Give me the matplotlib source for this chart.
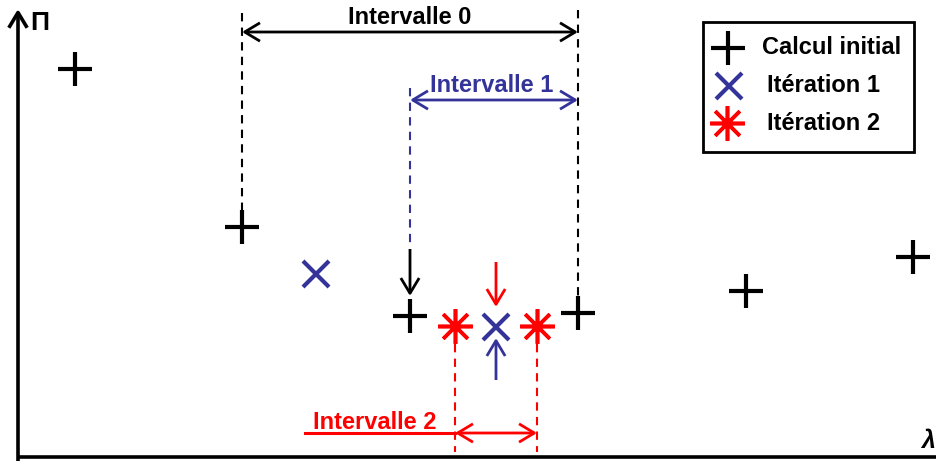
import numpy as np
import matplotlib.pyplot as plt
from matplotlib.patches import Rectangle

plt.rcParams['font.family'] = ['Liberation Sans', 'DejaVu Sans']

blue = '#333399'
red = '#ff0000'

# points in picture units (x = lambda, y = Pi, y grows downwards)
x_init = [75, 242, 410, 578, 746, 913]
y_init = [69, 227, 316, 313, 291, 257]
x_it1 = [316, 496]
y_it1 = [274, 327]
x_it2 = [455, 537]
y_it2 = [326, 326]

labels = ['Calcul initial', 'Itération 1', 'Itération 2']
interval_names = ['Intervalle 0', 'Intervalle 1', 'Intervalle 2']

fig = plt.figure(figsize=(9.36, 4.61), dpi=100)
ax = fig.add_axes([0, 0, 1, 1])
ax.set_xlim(0, 936)
ax.set_ylim(461, 0)
ax.axis('off')

def arrow(x0, y0, x1, y1, color, style='->', lw=2.0):
    ax.annotate('', xy=(x1, y1), xytext=(x0, y0),
                arrowprops=dict(arrowstyle=style + ',head_length=0.5,head_width=0.3',
                                color=color, lw=lw, shrinkA=0, shrinkB=0,
                                mutation_scale=22, capstyle='butt'))

def vdash(x, y0, y1, color):
    ax.plot([x, x], [y0, y1], color=color, lw=1.5, dashes=(4, 3))

# axes
arrow(18, 461, 18, 9, 'k', lw=2.6)
ax.plot([18, 936], [457, 457], color='k', lw=2.6, solid_capstyle='butt')
ax.text(40, 23, 'Π', fontsize=19, fontweight='bold', ha='center', va='center')
ax.text(921, 441, 'λ', fontsize=18, fontweight='bold', fontstyle='italic',
        ha='left', va='center')

# interval 0
vdash(x_init[1], 13, 210, 'k')
vdash(x_init[3], 10, 296, 'k')
arrow(x_init[1], 32, x_init[3], 32, 'k', style='<->')
ax.text(410, 17, interval_names[0], fontsize=17, fontweight='bold',
        ha='center', va='center', color='k')

# interval 1
vdash(x_init[2], 88, 248, blue)
arrow(x_init[2], 100, x_init[3], 100, blue, style='<->')
ax.text(492, 86, interval_names[1], fontsize=17, fontweight='bold',
        ha='center', va='center', color=blue)
arrow(x_init[2], 249, x_init[2], 296, 'k')

# interval 2
vdash(x_it2[0], 344, 452, red)
vdash(x_it2[1], 344, 452, red)
ax.plot([305, x_it2[0]], [433, 433], color=red, lw=2.2)
arrow(x_it2[0], 433, x_it2[1], 433, red, style='<->')
ax.text(375, 422, interval_names[2], fontsize=17, fontweight='bold',
        ha='center', va='center', color=red)
arrow(x_it1[1], 262, x_it1[1], 307, red)
arrow(x_it1[1], 380, x_it1[1], 338, blue)

# points
ax.plot(x_init, y_init, ls='none', marker='+', ms=25, mew=3, color='k')
ax.plot(x_it1, y_it1, ls='none', marker='x', ms=19, mew=3, color=blue)
ax.plot(x_it2, y_it2, ls='none', marker=(8, 2, 0), ms=25, mew=2.6, color=red)

# legend
ax.add_patch(Rectangle((703, 22), 211, 130, fill=False, lw=2, ec='k'))
leg_y = [48, 86, 123]
ax.plot(728, leg_y[0], marker='+', ms=25, mew=3, color='k')
ax.plot(729, leg_y[1], marker='x', ms=19, mew=3, color=blue)
ax.plot(727, leg_y[2], marker=(8, 2, 0), ms=25, mew=2.6, color=red)
for i, lab in enumerate(labels):
    ax.text(762 if i == 0 else 767, leg_y[i], lab, fontsize=17,
            fontweight='bold', ha='left', va='center')

fig.savefig('out.png', dpi=100)
